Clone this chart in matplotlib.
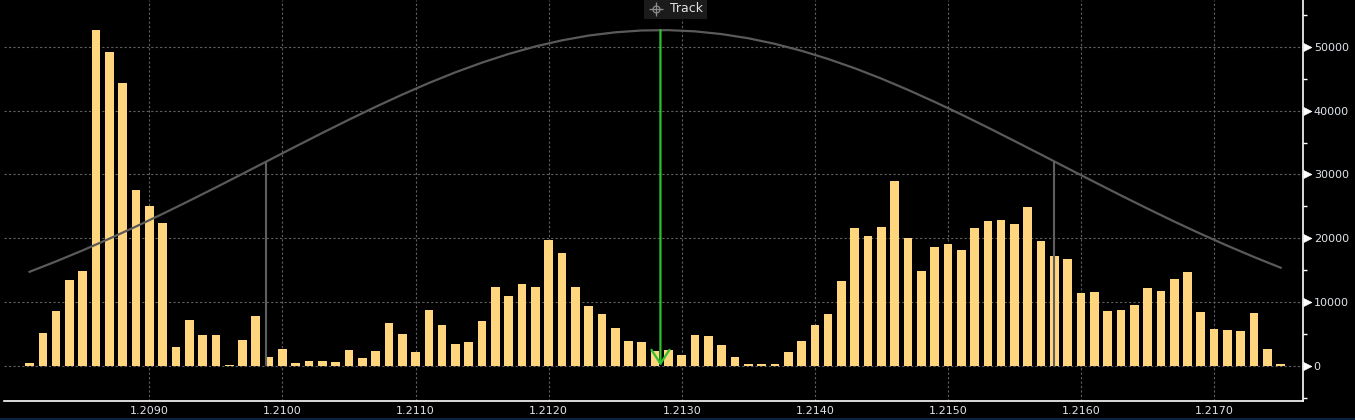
import numpy as np
import matplotlib
matplotlib.use('Agg')
import matplotlib.pyplot as plt
from matplotlib.ticker import MultipleLocator, FormatStrFormatter
from matplotlib.patches import Rectangle
from matplotlib.lines import Line2D

# price levels (one bar per 0.0001) and traded volume at each level
price_start = 1.2081
price_step = 0.0001
volumes = [
    400, 5100, 8600, 13400, 14850, 52650, 49200, 44350, 27550, 25050,
    22400, 2950, 7150, 4800, 4800, 100, 4000, 7800, 1350, 2600,
    400, 700, 700, 550, 2450, 1200, 2300, 6700, 4950, 2150,
    8750, 6400, 3400, 3700, 7000, 12350, 10950, 12800, 12350, 19700,
    17650, 12350, 9350, 8100, 5900, 3850, 3700, 2300, 2450, 1650,
    4800, 4650, 3250, 1350, 250, 250, 250, 2150, 3850, 6400,
    8100, 13300, 21600, 20350, 21750, 28950, 20050, 14850, 18600, 19100,
    18150, 21600, 22700, 22850, 22250, 24900, 19550, 17200, 16750, 11400,
    11550, 8600, 8750, 9500, 12200, 11700, 13600, 14700, 8400, 5750,
    5600, 5450, 8250, 2600, 250,
]
prices = price_start + price_step * np.arange(len(volumes))

# distribution curve, read every 0.0002
curve_prices = np.arange(1.2081, 1.2176, 0.0002)
curve_values = [
    14730, 16370, 18100, 19930, 21840, 23820, 25870, 27970, 30100, 32250,
    34400, 36520, 38600, 40610, 42530, 44350, 46030, 47550, 48910, 50080,
    51040, 51790, 52300, 52590, 52640, 52450, 52020, 51370, 50490, 49400,
    48120, 46660, 45040, 43270, 41390, 39420, 37360, 35250, 33120, 30960,
    28830, 26710, 24640, 22620, 20680, 18820, 17050, 15370,
]

# mean and +/- 1 sigma markers
mean_price = 1.21284
mean_top = 52650
sigma_prices = [1.20988, 1.21580]
sigma_top = 32000

x_ticks = [1.2090, 1.2100, 1.2110, 1.2120, 1.2130, 1.2140, 1.2150, 1.2160, 1.2170]
y_ticks = [0, 10000, 20000, 30000, 40000, 50000]

W, H = 1355, 420
fig = plt.figure(figsize=(W / 100, H / 100), dpi=100, facecolor='black')
ax = fig.add_axes([4 / W, 19.3 / H, 1299.3 / W, 400.7 / H])
ax.set_facecolor('black')

ax.bar(prices, volumes, width=0.000065, color='#ffd57e', zorder=2)
ax.plot(curve_prices, curve_values, color='#5a5a5a', lw=1.6, zorder=3)
ax.vlines(sigma_prices, 0, sigma_top, color='#5e5e5e', lw=1.5, zorder=3)
ax.annotate('', xy=(mean_price, 0), xytext=(mean_price, mean_top),
            arrowprops=dict(arrowstyle='->,head_length=1.0,head_width=0.65',
                            color='#2fbf2f', lw=1.6, shrinkA=0, shrinkB=0),
            zorder=4)

ax.set_xlim(1.207908, 1.217670)
ax.set_ylim(-5490, 57370)

# grid
ax.set_axisbelow(True)
ax.set_xticks(x_ticks)
ax.xaxis.set_major_formatter(FormatStrFormatter('%.4f'))
ax.set_yticks(y_ticks)
ax.yaxis.set_minor_locator(MultipleLocator(5000))
ax.grid(True, which='major', color='#606060', linestyle=(0, (2, 2)), linewidth=0.8)

for s in ['left', 'top']:
    ax.spines[s].set_visible(False)
for s in ['bottom', 'right']:
    ax.spines[s].set_color('white')
    ax.spines[s].set_linewidth(1.2)

label_color = '#dfe4ea'
ax.yaxis.tick_right()
ax.tick_params(axis='y', which='major', length=0, pad=7.5, labelsize=8, labelcolor=label_color)
ax.tick_params(axis='y', which='minor', right=True, left=False, length=3, width=1, color='white')
ax.tick_params(axis='x', which='both', length=0, pad=4, labelsize=8, labelcolor=label_color)

# triangle tick marks on the right axis
tri = [(0, -0.5), (1, 0), (0, 0.5)]
ax.plot([1] * len(y_ticks), y_ticks, linestyle='none', marker=tri, ms=12,
        color='white', mew=0.5, transform=ax.get_yaxis_transform(), clip_on=False, zorder=5)

# dark band at the bottom edge
fig.patches.append(Rectangle((0, 0), 1, 2.5 / H, transform=fig.transFigure,
                             facecolor='#0b2240', edgecolor='none'))

# "Track" label box
fig.patches.append(Rectangle((644 / W, 1 - 19 / H), 63 / W, 19 / H, transform=fig.transFigure,
                             facecolor='#1b1b1b', edgecolor='none', zorder=10))
fig.text(687 / W, 1 - 8.5 / H, 'Track', ha='center', va='center', fontsize=9,
         color='#e2e2e2', zorder=11)
fig.add_artist(Line2D([656 / W], [1 - 8.5 / H], transform=fig.transFigure, marker='o', ms=5,
                      mfc='none', mec='#8c8c8c', mew=0.9, linestyle='none', zorder=11))
fig.add_artist(Line2D([656 / W], [1 - 8.5 / H], transform=fig.transFigure, marker='+', ms=10,
                      mec='#8c8c8c', mew=0.9, linestyle='none', zorder=11))

fig.savefig('out.png', dpi=100, facecolor='black')
